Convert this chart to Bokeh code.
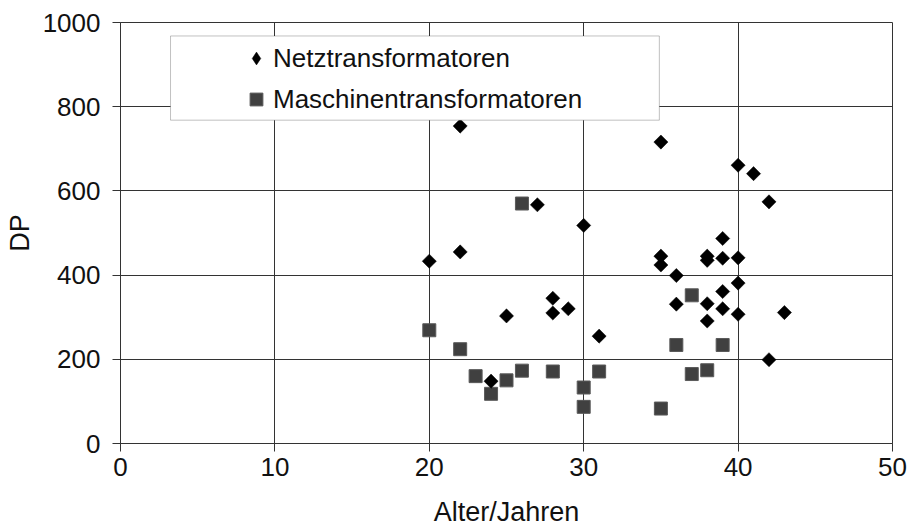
import math
from bokeh.plotting import figure
from bokeh.models import Range1d, Legend, LegendItem, BoxAnnotation, FixedTicker, ColumnDataSource
from bokeh.embed import file_html
from bokeh.resources import INLINE

# Netztransformatoren (age in years, DP)
netz_age = [20, 22, 22, 24, 25, 27, 28, 28, 29, 30, 31, 35, 35, 35, 36, 36,
            38, 38, 38, 38, 39, 39, 39, 39, 40, 40, 40, 40, 41, 42, 42, 43]
netz_dp = [433, 455, 754, 148, 303, 567, 345, 310, 320, 518, 255, 716, 445, 424, 399, 331,
           445, 435, 332, 291, 487, 440, 361, 320, 661, 441, 381, 307, 641, 574, 199, 311]

# Maschinentransformatoren
masch_age = [20, 22, 23, 24, 25, 26, 26, 28, 30, 30, 31, 35, 36, 37, 37, 38, 39]
masch_dp = [269, 224, 160, 118, 150, 570, 173, 171, 133, 87, 171, 83, 234, 352, 165, 174, 234]

x_ticks = [0, 10, 20, 30, 40, 50]
y_ticks = [0, 200, 400, 600, 800, 1000]

FONT = "Liberation Sans"

p = figure(width=911, height=529, output_backend="svg", toolbar_location=None,
           x_range=Range1d(0, 50), y_range=Range1d(0, 1000),
           min_border_left=120, min_border_right=19, min_border_top=22, min_border_bottom=86)

p.background_fill_color = "white"
p.border_fill_color = "white"
p.outline_line_color = "#333333"
p.outline_line_width = 1

for ax in (p.xaxis, p.yaxis):
    ax.axis_line_color = "#333333"
    ax.major_tick_line_color = "#333333"
    ax.major_tick_in = 0
    ax.major_tick_out = 8
    ax.minor_tick_line_color = None
    ax.major_label_text_font = FONT
    ax.major_label_text_font_size = "26px"
    ax.major_label_text_color = "#111111"
    ax.axis_label_text_font = FONT
    ax.axis_label_text_font_size = "27px"
    ax.axis_label_text_font_style = "normal"
    ax.axis_label_text_color = "#111111"

p.xaxis.ticker = FixedTicker(ticks=x_ticks)
p.yaxis.ticker = FixedTicker(ticks=y_ticks)
p.xaxis.axis_label = "Alter/Jahren"
p.yaxis.axis_label = "DP"
p.xaxis.major_label_standoff = 6
p.xaxis.axis_label_standoff = 18
p.yaxis.major_label_standoff = 12
p.yaxis.axis_label_standoff = 5

p.xgrid.ticker = FixedTicker(ticks=x_ticks)
p.ygrid.ticker = FixedTicker(ticks=y_ticks)
p.grid.grid_line_color = "#333333"
p.grid.grid_line_width = 1

m_src = ColumnDataSource(dict(x=masch_age, y=masch_dp))
n_src = ColumnDataSource(dict(x=netz_age, y=netz_dp))

r_m = p.scatter("x", "y", source=m_src, marker="square", size=13,
                fill_color="#404040", line_color="#5a5a5a", line_width=1)
r_n = p.scatter("x", "y", source=n_src, marker="square", angle=math.pi / 4, size=10,
                fill_color="black", line_color="black", line_width=0.5)
# legend-only renderer (a single NaN point, never drawn) so the legend glyph is a diamond
nan = float("nan")
r_n_leg = p.scatter(x=[nan], y=[nan], marker="diamond", size=10,
                    fill_color="black", line_color="black", line_width=0.5)

box = BoxAnnotation(left=3.24, right=34.9, bottom=768, top=968,
                    fill_color="white", fill_alpha=1.0,
                    line_color="#333333", line_width=1)
p.add_layout(box)

legend = Legend(items=[LegendItem(label="Netztransformatoren", renderers=[r_n_leg]),
                       LegendItem(label="Maschinentransformatoren", renderers=[r_m])],
                location=(120, 328), padding=0, margin=0, spacing=9,
                glyph_width=32, glyph_height=32, label_height=32, label_standoff=1,
                label_text_font=FONT, label_text_font_size="26px", label_text_color="#111111",
                background_fill_alpha=0, border_line_alpha=0)
p.add_layout(legend)

open("out.html", "w").write(file_html(p, INLINE))
